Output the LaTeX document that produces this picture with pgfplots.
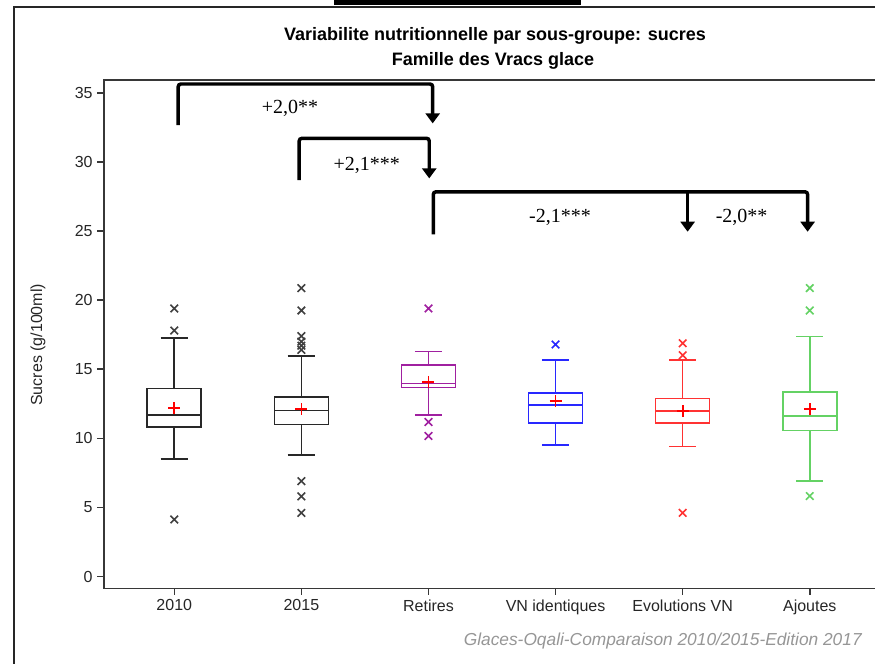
\documentclass[border=0pt]{standalone}
\usepackage{pgfplots}
\pgfplotsset{compat=1.18}
\usepgfplotslibrary{statistics}
\usetikzlibrary{arrows.meta}
\usepackage{fontspec}
\setmainfont{Liberation Sans}
\newfontfamily\annfont{Liberation Serif}
\definecolor{axgray}{RGB}{55,55,55}
\definecolor{boxblack}{RGB}{40,40,40}
\definecolor{outgray}{RGB}{64,64,64}
\definecolor{sasPurple}{RGB}{160,32,160}
\definecolor{sasBlue}{RGB}{40,40,255}
\definecolor{sasRed}{RGB}{255,50,50}
\definecolor{sasGreen}{RGB}{100,210,100}
\definecolor{footgray}{RGB}{150,150,150}
\begin{document}
\begin{tikzpicture}
\useasboundingbox (0pt,0pt) rectangle (656.25pt,498pt);
% cropped frame pieces
\fill[black] (250.5pt,494.25pt) rectangle (435.75pt,498pt);
\draw[line width=1.1pt, black!85] (10.5pt,0pt) -- (10.5pt,492.75pt) -- (660pt,492.75pt);
% titles
\node[font=\bfseries\fontsize{13.5}{15}\selectfont, anchor=center] at (371.25pt,471pt) {Variabilite nutritionnelle par sous-groupe: sucres};
\node[font=\bfseries\fontsize{13.5}{15}\selectfont, anchor=center] at (369.75pt,452.25pt) {Famille des Vracs glace};
% footnote
\node[font=\itshape\fontsize{13}{15}\selectfont, text=footgray, anchor=east, inner sep=0pt] at (646.5pt,17.25pt) {Glaces-Oqali-Comparaison 2010/2015-Edition 2017};
\begin{axis}[
  at={(78pt,56.8pt)}, anchor=south west,
  scale only axis, width=579.75pt, height=381.2pt,
  xmin=-0.553, xmax=5.529, ymin=-0.85, ymax=35.93,
  xtick={0,1,2,3,4,5},
  xticklabels={2010,2015,Retires,VN identiques,Evolutions VN,Ajoutes},
  ytick={0,5,10,15,20,25,30,35},
  tick align=outside, major tick length=5pt,
  xtick pos=bottom, ytick pos=left,
  axis line style={draw=axgray, line width=1.1pt},
  every tick/.style={draw=axgray, line width=1.1pt},
  tick label style={font=\fontsize{12}{14}\selectfont, text=black!85},
  /pgf/number format/assume math mode=true,
  ylabel={Sucres (g/100ml)},
  ylabel style={font=\fontsize{12}{14}\selectfont, text=black!85, at={(axis description cs:-0.0854,0.479)}, anchor=center},
  clip=false,
  boxplot/draw direction=y,
  boxplot/every box/.style={line width=1.2pt},
  boxplot/every whisker/.style={line width=1.2pt},
  boxplot/every median/.style={line width=1.2pt},
]
% 2010
\addplot[boxplot prepared={draw position=0, lower whisker=8.5, lower quartile=10.8, median=11.7, upper quartile=13.6, upper whisker=17.27, box extend=0.425, whisker extend=0.215},
  draw=boxblack, line width=1.2pt, mark=x, mark size=4pt, mark options={draw=outgray, line width=1.2pt}]
  table[row sep=\\, y index=0] {y\\ 19.4\\ 17.8\\ 4.13\\};
% 2015
\addplot[boxplot prepared={draw position=1, lower whisker=8.8, lower quartile=11.0, median=12.0, upper quartile=13.0, upper whisker=15.97, box extend=0.425, whisker extend=0.215},
  draw=boxblack, line width=1.2pt, mark=x, mark size=4pt, mark options={draw=outgray, line width=1.2pt}]
  table[row sep=\\, y index=0] {y\\ 20.87\\ 19.25\\ 17.4\\ 17.0\\ 16.7\\ 16.4\\ 6.9\\ 5.8\\ 4.6\\};
% Retires
\addplot[boxplot prepared={draw position=2, lower whisker=11.7, lower quartile=13.67, median=13.96, upper quartile=15.29, upper whisker=16.28, box extend=0.425, whisker extend=0.215},
  draw=sasPurple, line width=1.2pt, mark=x, mark size=4pt, mark options={draw=sasPurple, line width=1.2pt}]
  table[row sep=\\, y index=0] {y\\ 19.4\\ 11.18\\ 10.17\\};
% VN identiques
\addplot[boxplot prepared={draw position=3, lower whisker=9.52, lower quartile=11.09, median=12.39, upper quartile=13.26, upper whisker=15.68, box extend=0.425, whisker extend=0.215},
  draw=sasBlue, line width=1.2pt, mark=x, mark size=4pt, mark options={draw=sasBlue, line width=1.2pt}]
  table[row sep=\\, y index=0] {y\\ 16.79\\};
% Evolutions VN
\addplot[boxplot prepared={draw position=4, lower whisker=9.4, lower quartile=11.09, median=11.98, upper quartile=12.87, upper whisker=15.68, box extend=0.425, whisker extend=0.215},
  draw=sasRed, line width=1.2pt, mark=x, mark size=4pt, mark options={draw=sasRed, line width=1.2pt}]
  table[row sep=\\, y index=0] {y\\ 16.88\\ 16.01\\ 4.61\\};
% Ajoutes
\addplot[boxplot prepared={draw position=5, lower whisker=6.9, lower quartile=10.58, median=11.6, upper quartile=13.36, upper whisker=17.37, box extend=0.425, whisker extend=0.215},
  draw=sasGreen, line width=1.2pt, mark=x, mark size=4pt, mark options={draw=sasGreen, line width=1.2pt}]
  table[row sep=\\, y index=0] {y\\ 20.87\\ 19.25\\ 5.82\\};
% means
\addplot[only marks, mark=+, mark size=4.5pt, mark options={draw=red, line width=1.3pt}]
  coordinates {(0,12.17) (1,12.1) (2,14.08) (3,12.68) (4,11.96) (5,12.1)};
% significance brackets
\begin{scope}[line width=2.6pt, black, rounded corners=2pt]
\draw[-{Triangle[width=10.5pt,length=7.5pt]}] (axis cs:0.031,32.67) -- (axis cs:0.031,35.64) -- (axis cs:2.033,35.64) -- (axis cs:2.033,32.79);
\draw[-{Triangle[width=10.5pt,length=7.5pt]}] (axis cs:0.983,28.69) -- (axis cs:0.983,31.71) -- (axis cs:2.006,31.71) -- (axis cs:2.006,28.81);
\draw[-{Triangle[width=10.5pt,length=7.5pt]}] (axis cs:2.038,24.76) -- (axis cs:2.038,27.84) -- (axis cs:4.983,27.84) -- (axis cs:4.983,24.95);
\draw[-{Triangle[width=10.5pt,length=7.5pt]}] (axis cs:4.039,27.84) -- (axis cs:4.039,24.95);
\end{scope}
\node[font=\annfont\fontsize{15}{17}\selectfont] at (axis cs:0.911,33.90) {+2,0**};
\node[font=\annfont\fontsize{15}{17}\selectfont] at (axis cs:1.514,29.78) {+2,1***};
\node[font=\annfont\fontsize{15}{17}\selectfont] at (axis cs:3.035,25.96) {-2,1***};
\node[font=\annfont\fontsize{15}{17}\selectfont] at (axis cs:4.464,25.96) {-2,0**};
\end{axis}
\end{tikzpicture}
\end{document}
